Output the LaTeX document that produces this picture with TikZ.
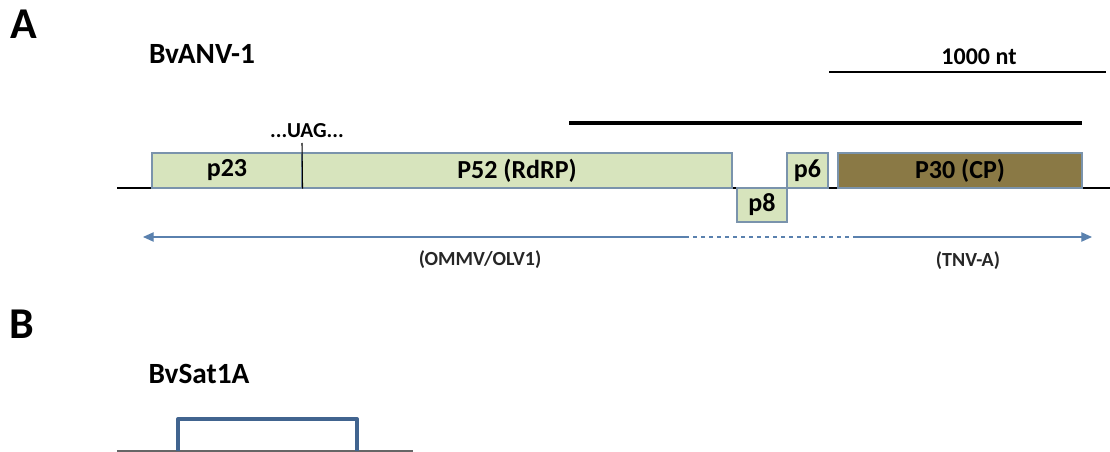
\documentclass[tikz,border=0pt]{standalone}
\usepackage{fontspec}
\setmainfont{Carlito}
\usepackage{tikz}
\usetikzlibrary{arrows.meta}
\usetikzlibrary{positioning}

\definecolor{orfgreen}{HTML}{D7E4BD}
\definecolor{orfedge}{HTML}{7A93AC}
\definecolor{cpbrown}{HTML}{8A7945}
\definecolor{arrblue}{HTML}{5A81AE}
\definecolor{satblue}{HTML}{41648F}

\tikzset{
  orf/.style={draw=orfedge,fill=orfgreen,line width=0.8pt,inner sep=0pt,minimum height=26.25pt,
    font=\fontsize{19.5}{22}\selectfont\bfseries},
  lbl/.style={inner sep=0pt,font=\fontsize{19.5}{22}\selectfont\bfseries},
  note/.style={inner sep=0pt,text=black!85,font=\fontsize{15}{18}\selectfont\bfseries},
  panel/.style={inner sep=0pt,font=\fontsize{33}{36}\selectfont\bfseries},
  rel/.style={arrblue,line width=0.9pt}
}

\begin{document}
\begin{tikzpicture}[x=0.75pt,y=-0.75pt]
        \useasboundingbox (0,0) rectangle (1110,452);

        % panel A
        \node [panel] (A) at (23.5,24) {A};
        \node [lbl,font=\fontsize{22}{26}\selectfont\bfseries] (vir) at (202,54) {BvANV-1};

        \coordinate (s1) at (829,72);
        \coordinate (s2) at (1106,72);
        \draw [line width=0.8pt] (s1) -- (s2);
        \node [lbl,font=\fontsize{18}{22}\selectfont\bfseries] (nt) at (979,57) {1000 nt};

        \coordinate (t1) at (569,123);
        \coordinate (t2) at (1082,123);
        \draw [line width=3pt] (t1) -- (t2);

        \coordinate (g1) at (117,188);
        \coordinate (g2) at (1110,188);
        \draw [line width=1.5pt] (g1) -- (g2);

        \node [orf,minimum width=112.5pt] (p23) at (227,170.5) {p23};
        \node [orf,minimum width=322.5pt] (p52) at (517,170.5) {P52 (RdRP)};
        \node [orf,minimum width=37.5pt,minimum height=25.5pt] (p8) at (762,205) {p8};
        \node [orf,minimum width=30.75pt] (p6) at (807.5,170.5) {p6};
        \node [orf,fill=cpbrown,minimum width=183pt] (p30) at (960,170.5) {P30 (CP)};

        \node [lbl,font=\fontsize{16}{19}\selectfont\bfseries] (uag) at (307,131) {...UAG...};
        \coordinate (u1) at (302,143);
        \draw [line width=0.8pt] (u1) -- (p23.south east);

        \coordinate (a1) at (143,237);
        \coordinate (d1) at (685,237);
        \coordinate (d2) at (853,237);
        \coordinate (a2) at (1092,237);
        \draw [rel,{Triangle[length=8pt,width=7pt]}-] (a1) -- (d1);
        \draw [rel,dashed] (d1) -- (d2);
        \draw [rel,-{Triangle[length=8pt,width=7pt]}] (d2) -- (a2);
        \node [note] (om) at (480,260) {(OMMV/OLV1)};
        \node [note] (tnv) at (968,261) {(TNV-A)};

        % panel B
        \node [panel] (B) at (22,324) {B};
        \node [lbl,font=\fontsize{22}{26}\selectfont\bfseries] (sat) at (199,374) {BvSat1A};

        \coordinate (h1) at (117,451);
        \coordinate (h2) at (413,451);
        \coordinate (b1) at (178,451);
        \coordinate (b2) at (357,451);
        \draw [black!60,line width=0.9pt] (h1) -- (h2);
        \draw [satblue,line width=3pt,line join=round] (b1) |- (268,419) -| (b2);
    \end{tikzpicture}
\end{document}
